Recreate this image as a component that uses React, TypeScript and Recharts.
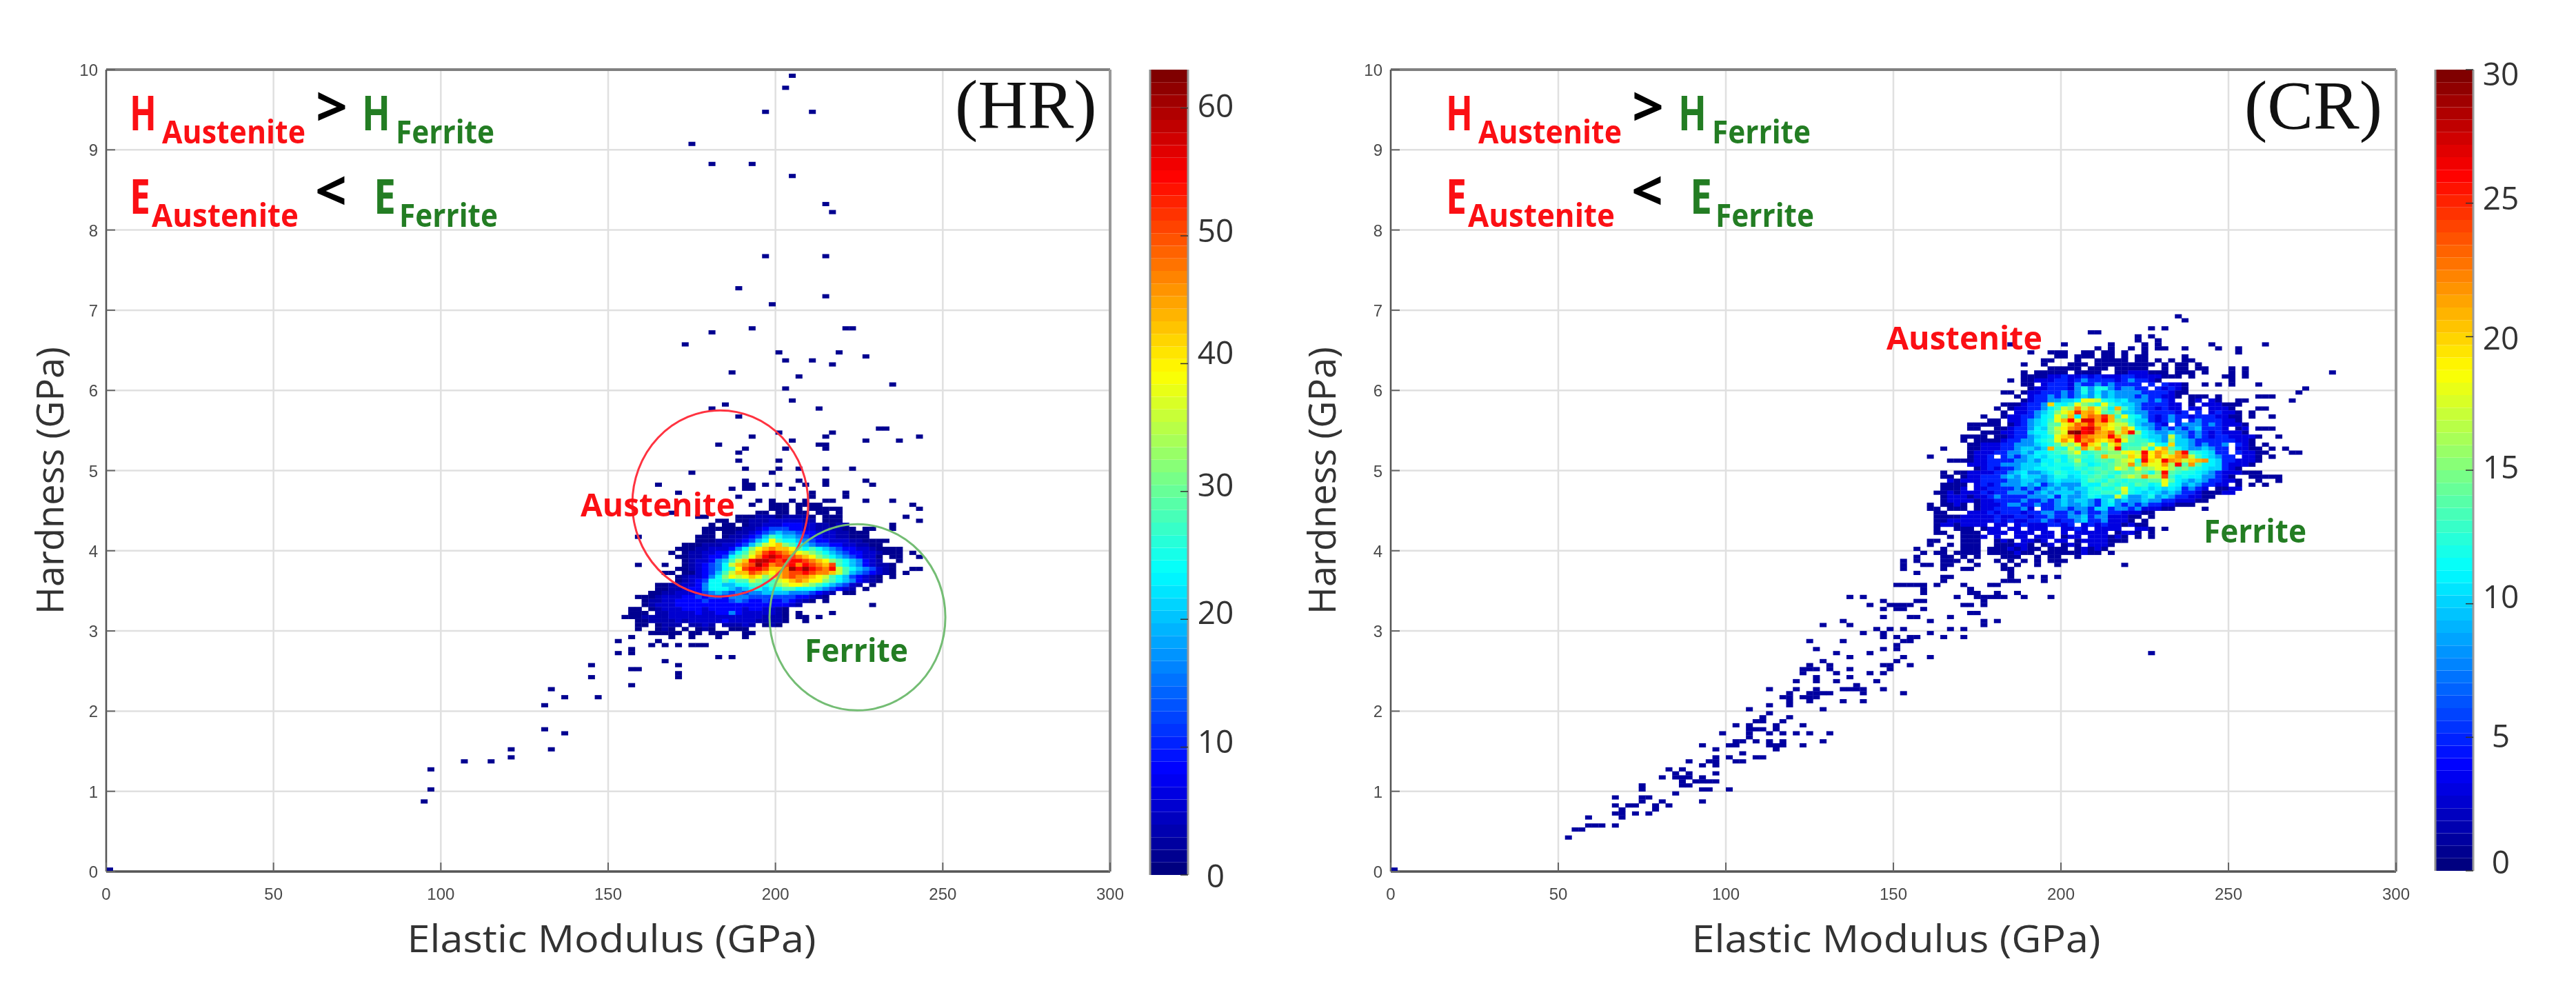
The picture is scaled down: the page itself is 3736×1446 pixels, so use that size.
import React from "react";
import {
  Bar,
  BarChart,
  CartesianGrid,
  ReferenceDot,
  Scatter,
  ScatterChart,
  XAxis,
  YAxis,
} from "recharts";

const W = 3736;
const H = 1446;
const FONT = "'Open Sans', sans-serif";

const xTicks = [0, 50, 100, 150, 200, 250, 300];
const yTicks = [0, 1, 2, 3, 4, 5, 6, 7, 8, 9, 10];
const hrBarTicks = [0, 10, 20, 30, 40, 50, 60];
const crBarTicks = [0, 5, 10, 15, 20, 25, 30];
const hrBarShift = [1, -9, -10, -10, -16, -8, -4];
const crBarShift = [-13, -2, -11, -5, 2, -8, 6];

// counts per bin, one char per 2 GPa column: 0-9 a-z A-Z, "." is an empty bin
// [hardness, first modulus, counts]
const hrRows: [number, number, string][] = [
  [4.575, 193, "1..111.1111"],
  [4.525, 199, "111.1.11111"],
  [4.475, 195, "11.11.11.11.1"],
  [4.425, 189, "111333133331.111"],
  [4.375, 183, "11.113335555533.111"],
  [4.325, 181, "1.11.1335558885533133"],
  [4.275, 179, "1111113358ccc8855333311.11"],
  [4.225, 179, "11.113358cgkggc8855533111"],
  [4.175, 177, "111.13358cksokkgc885533111"],
  [4.125, 177, "11133358ckoDsookgc88555331111"],
  [4.075, 175, "11333558cksADHwsokgcc88553311"],
  [4.025, 173, "11335558gowDHLHHDsosokgc885531111"],
  [3.975, 173, "1335588gosAHPTPLHDAwsokgc88553111"],
  [3.925, 173, "133588coswDLTXTPPLHDwsokgc8551.11"],
  [3.875, 173, "13558gksAHTXXTPTTTPLHDwsokg853..1"],
  [3.825, 173, "1358cgoAHLPZTLPPTLTPLHPsokg85331"],
  [3.775, 173, "1358cgosDPTTPHHLZTZTPLTAsokgc531"],
  [3.725, 173, "1158cksAHHPLHDHLPPTPLLHAskgc8531"],
  [3.675, 171, "13558gowDADHDwAHLPLLHDAsokc8531.1"],
  [3.625, 171, "1358coosossAwssADHLHDDwsokg8531"],
  [3.575, 165, "1133558gookkoossoswADDAwsokgc53.1"],
  [3.525, 165, "1133588goookgkookoossoookgc853.1"],
  [3.475, 163, "11335558cgkgcgcggkkkkgggc853.11"],
  [3.425, 161, "11355588c8cc8gggccccccc88531"],
  [3.375, 161, "133558888c888cgc88c88c8531"],
  [3.325, 161, "135558888888888888888853"],
  [3.275, 157, "11.135558885888885885531"],
  [3.225, 157, "111.33555585588g85555531.1"],
  [3.175, 155, "1113333555555555555553331.11.1"],
  [3.125, 159, "11333353555558555533331..1"],
  [3.075, 159, "11.1333.3353.33353.131"],
  [3.025, 159, "1..131.1.131..111"],
  [2.975, 163, "11111.11.111..11"],
];

// single count bins outside the dense part: [hardness, modulus columns]
const hrSparse: [number, number[]][] = [
  [9.925, [205]], [9.775, [203]], [9.475, [197, 211]], [9.075, [175]], [8.825, [181, 193]],
  [8.675, [205]], [8.325, [215]], [8.225, [217]], [7.675, [197, 215]], [7.275, [189]],
  [7.175, [215]], [7.075, [199]], [6.775, [193, 221, 223]], [6.725, [181]], [6.575, [173]],
  [6.475, [201, 219]], [6.425, [227]], [6.375, [203, 211]], [6.325, [217]], [6.225, [187]],
  [6.175, [207]], [6.075, [235]], [6.025, [203]], [5.875, [205]], [5.825, [185]],
  [5.775, [181, 213]], [5.675, [189]], [5.525, [231, 233]], [5.475, [201, 217]],
  [5.425, [193, 215, 243]], [5.375, [205, 227, 237]], [5.325, [183, 213, 215]],
  [5.275, [191, 203, 215]], [5.225, [189]], [5.125, [189, 201]],
  [5.025, [191, 201, 207, 215, 223]], [4.975, [175, 199]], [4.875, [191, 207, 215, 227]],
  [4.825, [165, 191, 193, 197, 201, 209, 215, 229]], [4.775, [187, 191, 193, 205]],
  [4.725, [171, 211, 221]], [4.675, [189, 211, 221]],
  [4.625, [195, 199, 205, 209, 215, 217, 227, 235]], [4.575, [241]], [4.525, [243]],
  [4.475, [169]], [4.425, [177, 179, 239]], [4.375, [243]], [4.325, [235]], [4.275, [235]],
  [4.175, [159]], [4.075, [173]], [4.025, [171]], [3.975, [169, 241]], [3.925, [171, 243]],
  [3.825, [159, 167]], [3.775, [171, 241, 243]], [3.725, [167, 169, 239]], [3.475, [163]],
  [3.425, [159]], [3.375, [215]], [3.325, [229]], [3.225, [217]],
  [2.925, [157, 169, 175, 183, 191]], [2.875, [153, 165]],
  [2.825, [163, 167, 171, 175, 177, 179]], [2.775, [157]], [2.725, [153, 157]],
  [2.675, [183, 187]], [2.625, [167]], [2.575, [145, 171]], [2.525, [157, 159]],
  [2.475, [171]], [2.425, [145, 171]], [2.325, [157]], [2.275, [133]], [2.175, [137, 147]],
  [2.075, [131]], [1.775, [131]], [1.725, [137]], [1.525, [121, 133]], [1.425, [121]],
  [1.375, [107, 115]], [1.275, [97]], [1.025, [97]], [0.875, [95]], [0.025, [1]],
];

const crRows: [number, number, string][] = [
  [6.375, 195, "11...1..11111.11.1.1.11"],
  [6.325, 195, "1...111.111111111.1.11.1"],
  [6.275, 197, "11111.111.11111..1.11.11...1.1"],
  [6.225, 193, "11111.1111..11333111.111.1...1.1"],
  [6.175, 189, "111133533535333553333111.1....11.1"],
  [6.125, 185, "1.113335535855553585531"],
  [6.075, 189, "11.355538558585555.5.5331"],
  [6.025, 191, "13355538c8cc858855.53531"],
  [5.975, 183, "11.133555858c8b8a88885555311"],
  [5.925, 187, "1.35585858a8c8a8885855331.111.1"],
  [5.875, 189, "135588aabiihcbab8885853..13.31"],
  [5.825, 183, "1113558kcbdifecidbaa8555533.1.333111"],
  [5.775, 181, "1.133558bdhfmhlifblda8553533.33.3331"],
  [5.725, 183, "1.3358acfikplmjedfaa88555535.5.35331.1"],
  [5.675, 183, "133558bciflblnmpldicb853585535553311.1..1"],
  [5.625, 179, "11.3358abdilqirrmqlfecaa53585.58555331"],
  [5.575, 173, "11111.1358abeeiknmpllihhda8853.58885853331"],
  [5.525, 173, "11..113558baehjmnqrnkjgliba8585858a5553.13"],
  [5.475, 177, "1113355abbegituqrmlnhlqfba88a88585353331"],
  [5.425, 171, "1111.113558abcikmqnmllqlgedbaa8ha858535533331"],
  [5.375, 171, "1.111135588bcdimjqmnkjlqieddba8faa8555555331"],
  [5.325, 173, "1133355888abcehfipkieildddehcbkaa858558.531.1"],
  [5.275, 173, "11333558aa8aldchemhlfhqdeehcjleca88a855.3311.1"],
  [5.225, 173, "13335588a8bbcdeficdeeffijhqjmkfmqdcba55.53311"],
  [5.175, 173, "1335.5858abaccbeedcelggfkipjmikmnhdba855.331.1"],
  [5.125, 167, "111133555588a8bbdbdgccdedfhidqkiqmlhklmba553331"],
  [5.075, 173, "33355888aaacbcccedbcdefgmeliimgqemebba53331"],
  [5.025, 175, "1353558aabbccbbdcdedeigeifgijgefdcbaa531"],
  [4.975, 165, "1.113333558ab88abdcbbdcdedceefecfqedccba85333111"],
  [4.925, 165, "11.1335558a8baa8accabcdedcefhfmggodbcbb88531..111.1"],
  [4.875, 167, "31333555588aa88abaaacedcedcdddeeieba8a855331..1..1"],
  [4.825, 165, "1111.3535888a8a58a888cbbedcdcedbcicb8a85533.1.1.1"],
  [4.775, 165, "1113.33555585858a8a8aacdcceicbcababa5853.1133"],
  [4.725, 163, "1131333535588858a8aaa8accddchcbaba8a855311133"],
  [4.675, 165, "1333133585555888a5a88acbaahc88ac8a8553311"],
  [4.625, 165, "133331335555855858a8aa85ac8a88a885533311"],
  [4.575, 161, "1.1131.1333588558558a88a85ab858585533111"],
  [4.525, 161, "11.111.133555583.55885885aa5885833311"],
  [4.475, 163, "11...333535553558855858558553 3311".replace(" ", "")],
  [4.425, 163, "1111333335335535585588a58833311.1"],
  [4.375, 163, "1133333335353355853558a5583331.1"],
  [4.325, 163, "13313333.33.353335535.3535331311"],
  [4.275, 163, "1..111.133.33.333..3353.3333..331.1"],
  [4.225, 163, "11..111.333.333.33.3.33333.1331.1"],
  [4.175, 167, "1.1113.3..33.333.133.333131.1.1"],
  [4.125, 161, "11...111..131.3313.33.13333111"],
  [4.075, 161, "1..1.111..111331.13.131.3331"],
  [4.025, 157, "1...1..111.11131311.111.13131"],
  [3.975, 159, "1.11.1111.1111311.111111311"],
];

const crSparse: [number, number[]][] = [
  [6.925, [235]], [6.875, [237]], [6.775, [227, 231]], [6.725, [209, 211]], [6.675, [223, 227]],
  [6.625, [223, 229]], [6.575, [185, 201, 215, 225, 229, 245, 261]],
  [6.525, [211, 215, 221, 225, 229, 231, 237, 247, 253]],
  [6.475, [191, 197, 199, 201, 207, 209, 213, 215, 219, 225, 253]],
  [6.425, [199, 201, 205, 207, 209, 213, 215, 219, 223, 225, 237]],
  [6.325, [189]], [6.225, [189, 281]], [6.125, [251]], [6.075, [243, 247, 251, 259]],
  [6.025, [273]], [5.975, [237, 271]], [5.925, [259, 261, 263]], [5.875, [253, 255, 269]],
  [5.775, [259, 261]], [5.675, [177, 263]], [5.525, [259, 261, 263]], [5.425, [265]],
  [5.275, [165, 267]], [5.225, [269, 271]], [5.175, [161, 263]], [4.925, [263]],
  [4.875, [265]], [4.525, [243]], [3.975, [215]], [3.925, [157, 165, 167, 171, 175, 183, 185, 187, 193, 197, 199, 205]],
  [3.875, [153, 157, 165, 167, 169, 173, 181, 185, 189, 193, 197, 199, 201]],
  [3.825, [153, 159, 161, 165, 167, 175, 183, 187, 193, 199, 219]],
  [3.775, [153, 165, 171, 173, 183, 185]], [3.725, [157, 185]],
  [3.675, [165, 167, 185, 191, 195, 199]], [3.625, [165, 183, 185, 187, 195]],
  [3.575, [151, 153, 155, 157, 159, 163, 171, 179, 181]], [3.525, [159, 173]],
  [3.475, [159, 173, 175, 181, 187]],
  [3.425, [137, 141, 169, 175, 177, 179, 181, 183, 189, 197]],
  [3.375, [147, 157, 159, 177]], [3.325, [143, 149, 151, 153, 155, 171, 173, 177]],
  [3.275, [147, 151, 153, 159]], [3.225, [173, 175]], [3.175, [147, 155, 157, 167]],
  [3.125, [135, 161, 177, 181]], [3.075, [129, 137, 177]],
  [3.025, [145, 149, 153, 167, 171]], [2.975, [141, 147, 161]],
  [2.925, [147, 151, 155, 157, 165, 171]], [2.875, [125, 135, 153, 155]], [2.825, [151]],
  [2.775, [127, 147, 151]], [2.725, [133, 143, 227]], [2.675, [137, 153, 161]],
  [2.625, [129, 151]], [2.575, [125, 131, 147, 149, 155]],
  [2.525, [123, 125, 127, 131, 137, 149]], [2.475, [123, 133, 143, 147]], [2.425, [127, 137]],
  [2.375, [121, 127, 133, 145]], [2.325, [139]], [2.275, [113, 121, 127, 135, 137, 139, 141, 147]],
  [2.225, [119, 125, 127, 129, 131, 141, 153]], [2.175, [117, 119, 123, 125, 127]],
  [2.125, [119, 125, 135, 141]], [2.075, [113, 119]], [2.025, [107, 129]], [1.975, [113]],
  [1.925, [111, 119]], [1.875, [109, 111, 117]], [1.825, [103, 107, 115, 123]],
  [1.775, [107, 109, 111, 115]], [1.725, [99, 107, 113, 117, 121, 125, 131]],
  [1.675, [107]], [1.625, [103, 105, 109, 113, 117, 129]], [1.575, [93, 101, 103, 113, 115, 117, 123]],
  [1.525, [97, 115]], [1.475, [105]], [1.425, [97, 101, 109, 111]], [1.375, [89, 95, 97, 103, 105]],
  [1.325, [93, 97]], [1.275, [83, 87]], [1.225, [85, 89, 97]], [1.175, [81, 85, 87, 89, 93]],
  [1.125, [87, 91, 93, 95, 97]], [1.075, [75, 87, 89]], [1.025, [75, 93, 95, 101]],
  [0.975, [85]], [0.925, [67, 75, 77]], [0.875, [75, 81, 93]], [0.825, [67, 71, 73, 79, 83]],
  [0.775, [69, 79]], [0.725, [67, 69, 73, 77]], [0.675, [59, 69]], [0.575, [59, 61, 63, 67]],
  [0.525, [55, 57]], [0.425, [53]], [0.025, [1]],
];

// ellipses round the two phases on the HR panel: [modulus, hardness, colour]
const hrRings: [number, number, string][] = [
  [183.5, 4.59, "#ff3340"],
  [224.5, 3.17, "#74bd74"],
];

const DIGITS = "0123456789abcdefghijklmnopqrstuvwxyzABCDEFGHIJKLMNOPQRSTUVWXYZ";

type Bin = { e: number; h: number; count: number };

function buildBins(sparse: [number, number[]][], rows: [number, number, string][]) {
  const bins: Bin[] = [];
  sparse.forEach(([h, cols]) => cols.forEach((e) => bins.push({ e, h, count: 1 })));
  rows.forEach(([h, start, counts]) => {
    counts.split("").forEach((c, i) => {
      if (c !== ".") bins.push({ e: start + i * 2, h, count: DIGITS.indexOf(c) });
    });
  });
  return bins;
}

const hrBins = buildBins(hrSparse, hrRows);
const crBins = buildBins(crSparse, crRows);

const clamp = (v: number) => Math.max(0, Math.min(1, v));

function jet(t: number) {
  const c = (v: number) => Math.round(clamp(v) * 255);
  return `rgb(${c(1.5 - Math.abs(4 * t - 3))},${c(1.5 - Math.abs(4 * t - 2))},${c(1.5 - Math.abs(4 * t - 1))})`;
}

const levelColor = (count: number, max: number) => jet(Math.min(63, Math.floor((count / max) * 64)) / 63);

function XTick({ x, y, payload }: any) {
  return (
    <g>
      <line x1={x} x2={x} y1={y} y2={y - 13} stroke="#666" strokeWidth={2} />
      <text x={x} y={y + 41} textAnchor="middle" fontSize={24} fontFamily="'Liberation Sans'" fill="#4a4a4a">
        {payload.value}
      </text>
    </g>
  );
}

function YTick({ x, y, payload }: any) {
  return (
    <g>
      <line x1={x} x2={x + 13} y1={y} y2={y} stroke="#666" strokeWidth={2} />
      <text x={x - 12} y={y + 9} textAnchor="end" fontSize={24} fontFamily="'Liberation Sans'" fill="#4a4a4a">
        {payload.value}
      </text>
    </g>
  );
}

const TopTick = ({ x, y }: any) => <line x1={x} x2={x} y1={y} y2={y + 13} stroke="#777" strokeWidth={2} />;
const RightTick = ({ x, y }: any) => <line x1={x} x2={x - 13} y1={y} y2={y} stroke="#777" strokeWidth={2} />;

function HeatPanel({
  bins,
  max,
  left,
  right,
  titleX,
  titleY,
  rings,
}: {
  bins: Bin[];
  max: number;
  left: number;
  right: number;
  titleX: number;
  titleY: number;
  rings?: [number, number, string][];
}) {
  const top = 101;
  const bottom = 1264;
  const binW = ((right - left) / 300) * 2;
  const binH = ((bottom - top) / 10) * 0.05;
  return (
    <ScatterChart
      width={W}
      height={H}
      margin={{ left: left - 1, right: W - right - 1, top: top - 1, bottom: H - bottom - 1 }}
      style={{ position: "absolute", left: 0, top: 0 }}
    >
      <CartesianGrid stroke="#e0e0e0" strokeWidth={2.5} />
      <XAxis
        type="number"
        dataKey="e"
        domain={[0, 300]}
        ticks={xTicks}
        interval={0}
        height={1}
        tickLine={false}
        tickSize={0}
        tickMargin={0}
        axisLine={{ stroke: "#555", strokeWidth: 3.5 }}
        tick={<XTick />}
        label={() => (
          <text
            x={titleX}
            y={1381}
            textAnchor="middle"
            fontSize={54}
            fontFamily={FONT}
            fill="#333"
            textLength={593}
            lengthAdjust="spacingAndGlyphs"
          >
            Elastic Modulus (GPa)
          </text>
        )}
      />
      <XAxis
        xAxisId="top"
        orientation="top"
        type="number"
        domain={[0, 300]}
        ticks={xTicks}
        interval={0}
        height={1}
        tickLine={false}
        tickSize={0}
        tickMargin={0}
        axisLine={{ stroke: "#808080", strokeWidth: 4 }}
        tick={<TopTick />}
      />
      <YAxis
        type="number"
        dataKey="h"
        domain={[0, 10]}
        ticks={yTicks}
        interval={0}
        width={1}
        tickLine={false}
        tickSize={0}
        tickMargin={0}
        axisLine={{ stroke: "#555", strokeWidth: 2.5 }}
        tick={<YTick />}
        label={() => (
          <text
            transform={`translate(${titleY},697) rotate(-90)`}
            textAnchor="middle"
            fontSize={54}
            fontFamily={FONT}
            fill="#333"
            textLength={388}
            lengthAdjust="spacingAndGlyphs"
          >
            Hardness (GPa)
          </text>
        )}
      />
      <YAxis
        yAxisId="right"
        orientation="right"
        type="number"
        domain={[0, 10]}
        ticks={yTicks}
        interval={0}
        width={1}
        tickLine={false}
        tickSize={0}
        tickMargin={0}
        axisLine={{ stroke: "#999", strokeWidth: 4 }}
        tick={<RightTick />}
      />
      <Scatter
        data={bins}
        isAnimationActive={false}
        shape={(p: any) => (
          <rect
            x={p.cx - binW / 2}
            y={p.cy - binH / 2}
            width={binW + 0.3}
            height={binH + 0.3}
            fill={levelColor(p.payload.count, max)}
          />
        )}
      />
      {(rings || []).map(([e, h, color]) => (
        <ReferenceDot
          key={color}
          x={e}
          y={h}
          shape={(p: any) => (
            <ellipse cx={p.cx} cy={p.cy} rx={127.5} ry={135} fill="none" stroke={color} strokeWidth={3} />
          )}
        />
      ))}
    </ScatterChart>
  );
}

function ColorBar({
  left,
  right,
  bottom,
  max,
  ticks,
  shifts,
  labelX,
}: {
  left: number;
  right: number;
  bottom: number;
  max: number;
  ticks: number[];
  shifts: number[];
  labelX: number;
}) {
  const keys = Array.from({ length: 64 }, (_, i) => `l${i}`);
  const row: Record<string, number> = {};
  keys.forEach((k) => (row[k] = max / 64));
  const BarTick = ({ x, y, payload }: any) => {
    const shift = shifts[ticks.indexOf(payload.value)];
    return (
      <g>
        <line x1={x} x2={x - 11} y1={y} y2={y} stroke="#333" strokeWidth={1.5} />
        <text
          x={labelX}
          y={y + shift + 17}
          textAnchor="middle"
          fontSize={46}
          fontFamily={FONT}
          fill="#333"
        >
          {payload.value}
        </text>
      </g>
    );
  };
  return (
    <BarChart
      width={W}
      height={H}
      data={[row]}
      barCategoryGap={0}
      margin={{ left: left - 1, right: W - right - 1, top: 101, bottom: H - bottom }}
      style={{ position: "absolute", left: 0, top: 0 }}
    >
      <XAxis hide />
      <YAxis
        orientation="right"
        type="number"
        domain={[0, max]}
        ticks={ticks}
        interval={0}
        width={1}
        tickLine={false}
        tickSize={0}
        tickMargin={0}
        axisLine={{ stroke: "#9a9a9a", strokeWidth: 3 }}
        tick={<BarTick />}
      />
      <YAxis
        yAxisId="edge"
        orientation="left"
        type="number"
        domain={[0, max]}
        width={1}
        tick={false}
        tickLine={false}
        axisLine={{ stroke: "#8a8a8a", strokeWidth: 3 }}
      />
      {keys.map((k, i) => (
        <Bar key={k} dataKey={k} stackId="levels" fill={jet(i / 63)} isAnimationActive={false} />
      ))}
    </BarChart>
  );
}

const RED = "#fb0f14";
const GREEN = "#237d23";
// x, width of the big letter, then x and width of its subscript
const relations: [number, number, string, number, number, string, number, string][] = [
  [188, 189, "H", 39, 235, "Austenite", 208, RED],
  [525, 189, "H", 41, 574, "Ferrite", 143, GREEN],
  [188, 310, "E", 30, 220, "Austenite", 213, RED],
  [542, 310, "E", 32, 579, "Ferrite", 143, GREEN],
];
const compare: [number, number, string][] = [
  [458, 183, ">"],
  [457, 305, "<"],
];
const PANEL_SHIFT = 1909;
const phaseLabels: [number, number, number, string, string][] = [
  [842, 749, 224, RED, "Austenite"],
  [1167, 960, 150, GREEN, "Ferrite"],
  [2736, 507, 226, RED, "Austenite"],
  [3196, 787, 149, GREEN, "Ferrite"],
];

export default function App() {
  return (
    <div
      style={{
        position: "absolute",
        left: 0,
        top: 0,
        width: W,
        height: H,
        background: "#fff",
        overflow: "hidden",
        filter: "blur(0.6px)",
      }}
    >
      <HeatPanel bins={hrBins} max={63} left={154} right={1610} titleX={887} titleY={92} rings={hrRings} />
      <HeatPanel bins={crBins} max={30} left={2017} right={3475} titleX={2750} titleY={1937} />
      <ColorBar left={1668} right={1723} bottom={1269} max={63} ticks={hrBarTicks} shifts={hrBarShift} labelX={1763} />
      <ColorBar left={3532} right={3587} bottom={1263} max={30} ticks={crBarTicks} shifts={crBarShift} labelX={3627} />
      <svg width={W} height={H} style={{ position: "absolute", left: 0, top: 0 }}>
        {[0, PANEL_SHIFT].map((dx) =>
          relations.map(([x, y, big, bigW, subX, sub, subW, color]) => (
            <text key={`${dx}${big}${subX}`} fontWeight={700} fontFamily={FONT} fill={color}>
              <tspan x={x + dx} y={y} fontSize={69} textLength={bigW} lengthAdjust="spacingAndGlyphs">
                {big}
              </tspan>
              <tspan x={subX + dx} y={y + 19} fontSize={47} textLength={subW} lengthAdjust="spacingAndGlyphs">
                {sub}
              </tspan>
            </text>
          ))
        )}
        {[0, PANEL_SHIFT].map((dx) =>
          compare.map(([x, y, text]) => (
            <text
              key={`${dx}${text}`}
              x={x + dx}
              y={y}
              fontSize={78}
              fontWeight={700}
              fontFamily={FONT}
              fill="#000"
              textLength={46}
              lengthAdjust="spacingAndGlyphs"
            >
              {text}
            </text>
          ))
        )}
        {phaseLabels.map(([x, y, w, color, text]) => (
          <text
            key={`${x}`}
            x={x}
            y={y}
            fontSize={46}
            fontWeight={700}
            fontFamily={FONT}
            fill={color}
            textLength={w}
            lengthAdjust="spacingAndGlyphs"
          >
            {text}
          </text>
        ))}
        <text x={1385} y={185} fontSize={100} fontFamily="'Liberation Serif'" fill="#111">(HR)</text>
        <text x={3255} y={186} fontSize={100} fontFamily="'Liberation Serif'" fill="#111">(CR)</text>
      </svg>
    </div>
  );
}
